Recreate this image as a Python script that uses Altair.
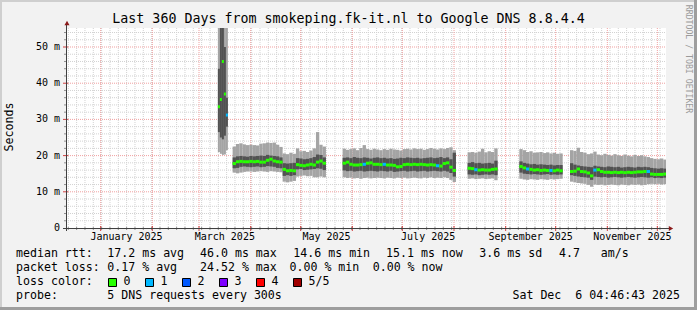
import altair as alt
import pandas as pd

# ---------------------------------------------------------------- data
# Each data segment: start time, bin width (days) and one value per bin for
# the five sorted pings (min, 2nd, median, 4th, max) plus the loss count.
seg_start = ["2025-03-12T08:00:00", "2025-03-21T04:00:00", "2025-05-26T04:00:00",
             "2025-08-09T04:00:00", "2025-09-09T05:00:00", "2025-10-09T14:00:00"]
seg_step_days = [1.2, 2, 2, 2, 2, 2]

# spike in March
max_s = [58.0, 58.0, 58.0, 58.0, 58.0]
hi_s = [44.0, 56.0, 56.0, 50.0, 36.0]
med_s = [33.5, 35.5, 46.0, 37.0, 31.2]
lo_s = [26.5, 25.0, 24.5, 25.5, 28.0]
min_s = [21.0, 20.5, 20.2, 20.3, 21.5]
loss_s = [0, 0, 0, 0, 1]

# March - May
max_a = [22.5, 23.2, 23.4, 23.1, 22.9, 23.0, 22.9, 22.8, 23.3, 23.4,
         23.6, 23.5, 23.6, 23.0, 22.4, 20.6, 20.4, 20.8, 20.5, 22.0,
         21.2, 21.3, 21.0, 21.4, 22.0, 26.5, 23.0, 22.5]
hi_a = [19.5, 19.8, 19.9, 19.8, 19.7, 19.9, 19.8, 19.9, 20.0, 19.9,
        20.2, 20.0, 19.9, 19.8, 19.5, 17.9, 17.8, 17.9, 18.0, 19.3,
        19.2, 19.0, 19.1, 19.3, 19.6, 20.3, 20.2, 19.5]
med_a = [17.8, 18.3, 18.4, 18.3, 18.3, 18.4, 18.3, 18.4, 18.2, 18.2,
         18.7, 19.0, 18.5, 18.3, 18.2, 16.2, 15.8, 15.9, 15.8, 17.5,
         17.3, 17.2, 17.4, 17.6, 17.4, 18.2, 18.5, 17.9]
lo_a = [16.5, 16.6, 16.9, 17.0, 16.9, 16.8, 16.9, 17.0, 16.8, 16.9,
        17.1, 17.0, 16.9, 16.6, 16.5, 14.4, 14.6, 14.4, 14.6, 16.2,
        16.3, 16.0, 16.1, 16.2, 16.3, 16.5, 16.4, 16.0]
min_a = [15.3, 15.1, 15.3, 15.5, 15.6, 15.6, 15.5, 15.6, 15.7, 15.6,
         15.5, 15.7, 15.6, 15.5, 15.4, 12.8, 12.6, 12.8, 13.0, 14.2,
         14.4, 14.5, 14.3, 14.4, 14.0, 14.0, 14.2, 14.0]
loss_a = [0] * 28

# late May - July
max_b = [21.9, 21.6, 21.8, 22.0, 21.5, 22.1, 22.9, 21.8, 21.6, 21.9,
         21.7, 21.5, 21.8, 21.6, 21.9, 21.7, 21.6, 21.4, 21.8, 21.9,
         21.7, 22.0, 21.8, 21.9, 21.6, 21.8, 22.1, 21.9, 21.7, 22.0,
         21.8, 22.1, 22.3, 21.5]
hi_b = [19.4, 19.5, 19.3, 19.6, 19.4, 19.3, 19.5, 19.4, 19.2, 19.4,
        19.5, 19.3, 19.4, 19.2, 19.3, 19.1, 19.2, 19.4, 19.3, 19.5,
        19.4, 19.3, 19.4, 19.2, 19.3, 19.4, 19.5, 19.3, 19.4, 19.6,
        19.3, 19.5, 19.0, 20.8]
med_b = [17.9, 18.2, 17.6, 17.4, 17.4, 17.5, 17.6, 17.9, 18.0, 17.6,
         17.6, 17.5, 17.6, 17.4, 17.4, 17.3, 16.9, 17.0, 17.5, 17.6,
         17.5, 17.6, 17.5, 17.6, 17.5, 17.4, 17.5, 17.4, 17.2, 17.1,
         17.8, 18.0, 16.8, 15.9]
lo_b = [15.9, 15.7, 15.8, 15.6, 15.7, 15.8, 15.6, 15.7, 15.8, 15.7,
        15.6, 15.8, 15.7, 15.6, 15.8, 15.5, 15.6, 15.7, 15.8, 15.6,
        15.7, 15.8, 15.6, 15.7, 15.8, 15.6, 15.7, 15.8, 15.7, 15.6,
        15.8, 15.6, 15.2, 14.2]
min_b = [14.0, 13.8, 13.9, 13.7, 13.8, 13.6, 13.8, 13.9, 13.7, 13.8,
         13.9, 13.8, 13.7, 13.9, 13.8, 13.7, 13.9, 13.8, 13.9, 13.7,
         13.8, 13.9, 13.8, 13.7, 13.9, 13.8, 14.0, 13.8, 13.9, 13.8,
         14.0, 13.8, 13.3, 12.7]
loss_b = [0, 0, 0, 0, 0, 0, 1, 0, 0, 0,
          0, 0, 1, 0, 0, 0, 0, 0, 0, 0,
          0, 0, 0, 0, 0, 0, 0, 0, 1, 0,
          0, 0, 0, 0]

# August
max_c = [20.9, 21.0, 20.8, 21.1, 21.9, 20.9, 21.2, 21.0, 22.0]
hi_c = [18.0, 18.2, 17.9, 18.0, 17.8, 17.9, 18.0, 17.8, 18.6]
med_c = [16.5, 16.4, 16.1, 16.0, 16.1, 16.0, 16.0, 16.2, 16.3]
lo_c = [14.8, 14.7, 14.8, 14.6, 14.7, 14.8, 14.7, 14.8, 14.6]
min_c = [13.6, 13.7, 13.5, 13.6, 13.7, 13.5, 13.6, 13.7, 13.2]
loss_c = [0, 0, 1, 0, 0, 0, 0, 0, 0]

# September
max_d = [21.8, 21.5, 21.0, 21.2, 20.8, 20.9, 21.0, 20.7, 20.9, 20.6, 20.8, 20.5, 20.6]
hi_d = [18.4, 18.0, 17.8, 17.6, 17.7, 17.5, 17.6, 17.5, 17.4, 17.5, 17.3, 17.4, 17.4]
med_d = [17.0, 16.6, 16.3, 16.2, 16.0, 16.1, 15.9, 16.0, 15.9, 15.9, 15.8, 16.0, 15.8]
lo_d = [15.3, 15.0, 14.9, 14.8, 14.9, 14.8, 14.7, 14.8, 14.9, 14.7, 14.8, 14.7, 14.8]
min_d = [13.6, 13.4, 13.3, 13.5, 13.4, 13.3, 13.5, 13.4, 13.3, 13.5, 13.4, 13.5, 13.6]
loss_d = [0, 0, 1, 0, 0, 0, 0, 0, 0, 1, 0, 0, 0]

# October - December
max_e = [21.5, 21.3, 22.2, 21.0, 20.8, 20.4, 20.6, 21.1, 20.3, 20.1,
         20.5, 20.2, 20.0, 20.4, 20.1, 19.9, 20.3, 20.0, 19.8, 20.2,
         19.9, 20.1, 19.8, 19.6, 19.3, 19.1, 19.0, 19.2, 18.9]
hi_e = [17.9, 17.5, 17.3, 17.1, 17.0, 16.9, 16.8, 17.2, 17.0, 16.9,
        16.8, 17.0, 16.9, 16.8, 16.9, 16.7, 16.8, 16.9, 16.8, 16.7,
        16.9, 16.8, 16.9, 16.8, 16.6, 16.5, 16.4, 16.5, 16.4]
med_e = [15.6, 15.7, 16.3, 15.6, 15.5, 15.2, 14.4, 16.0, 16.1, 15.6,
         15.4, 15.4, 15.3, 15.4, 15.3, 15.4, 15.3, 15.4, 15.3, 15.4,
         15.5, 15.5, 15.6, 15.6, 14.9, 14.8, 14.8, 14.8, 14.9]
lo_e = [14.6, 14.4, 14.2, 14.1, 14.0, 13.9, 13.3, 14.2, 14.1, 14.0,
        14.1, 13.9, 14.0, 14.1, 14.0, 13.9, 14.0, 14.1, 14.0, 13.9,
        14.0, 14.1, 14.0, 13.9, 14.0, 13.8, 13.9, 13.8, 13.9]
min_e = [12.8, 12.6, 12.4, 12.3, 12.2, 11.9, 11.4, 12.0, 11.9, 12.0,
         11.8, 11.9, 12.0, 11.9, 11.8, 12.0, 11.9, 11.8, 12.0, 11.9,
         12.0, 11.8, 11.9, 12.1, 12.2, 12.1, 12.2, 12.0, 12.1]
loss_e = [0, 0, 0, 0, 0, 0, 0, 1, 0, 0,
          0, 0, 0, 0, 0, 0, 0, 0, 0, 0,
          0, 0, 0, 1, 0, 0, 0, 0, 0]

seg_max = [max_s, max_a, max_b, max_c, max_d, max_e]
seg_hi = [hi_s, hi_a, hi_b, hi_c, hi_d, hi_e]
seg_med = [med_s, med_a, med_b, med_c, med_d, med_e]
seg_lo = [lo_s, lo_a, lo_b, lo_c, lo_d, lo_e]
seg_min = [min_s, min_a, min_b, min_c, min_d, min_e]
seg_loss = [loss_s, loss_a, loss_b, loss_c, loss_d, loss_e]

y_ticks = [0, 10, 20, 30, 40, 50]
month_labels = ["January 2025", "March 2025", "May 2025", "July 2025",
                "September 2025", "November 2025"]
loss_names = ["0", "1", "2", "3", "4", "5/5"]
loss_colors = ["#26ff00", "#00b8ff", "#0059ff", "#7e00ff", "#ff0000", "#a10000"]

title_text = "Last 360 Days from smokeping.fk-it.nl to Google DNS 8.8.4.4"
end_stamp = "2025-12-06 04:46:43"
span_days = 360

# ---------------------------------------------------------------- layout
FONT = "DejaVu Sans Mono"
W, H = 600, 200
L, T = 66, 28          # plot origin inside the 697 x 310 canvas
R, B = 697 - L - W, 310 - T - H
Y_MAX = 55.25

end_ts = pd.Timestamp(end_stamp)
start_ts = end_ts - pd.Timedelta(days=span_days)


def iso(ts):
    return ts.strftime("%Y-%m-%dT%H:%M:%SZ")


def dt(ts):
    return alt.DateTime(year=ts.year, month=ts.month, date=ts.day, hours=ts.hour,
                        minutes=ts.minute, seconds=ts.second, utc=True)


rows = []
for k in range(len(seg_start)):
    t = pd.Timestamp(seg_start[k])
    step = pd.Timedelta(days=seg_step_days[k])
    for i in range(len(seg_med[k])):
        rows.append({"t0": iso(t + step * i), "t1": iso(t + step * (i + 1)),
                     "mn": seg_min[k][i], "lo": seg_lo[k][i], "med": seg_med[k][i],
                     "hi": seg_hi[k][i], "mx": seg_max[k][i],
                     "loss": loss_names[seg_loss[k][i]]})
df = pd.DataFrame(rows)

xs = alt.Scale(type="utc", domain=[dt(start_ts), dt(end_ts)])
ys = alt.Scale(domain=[0, Y_MAX], nice=False, zero=False)

months = pd.date_range("2025-01-01", "2025-12-01", freq="MS")
month_df = pd.DataFrame({"t": [iso(m) for m in months]})
minor_days = pd.date_range("2024-12-12 14:00", end_ts, freq="5D")
minor_df = pd.DataFrame({"t": [iso(m) for m in minor_days]})
label_months = [pd.Timestamp(s.split()[0] + " 1 " + s.split()[1]) for s in month_labels]
mid_df = pd.DataFrame({
    "t": [iso(m + (m + pd.offsets.MonthBegin(1) - m) / 2) for m in label_months],
    "lab": [s.replace(" ", "\u00a0") for s in month_labels]})
hmaj_df = pd.DataFrame({"v": y_ticks[1:]})
hmin_df = pd.DataFrame({"v": [v for v in range(2, 56, 2) if v % 10]})
ylab_df = pd.DataFrame({"v": y_ticks,
                        "lab": ["0\u00a0\u00a0" if v == 0 else f"{v}\u00a0m" for v in y_ticks]})

GRID_MINOR = "#d2d2d2"
GRID_MAJOR = "#f0a0a0"
AXIS = "#404040"
ARROW = "#8b1a1a"

layers = []
# grid
layers.append(alt.Chart(minor_df).mark_rule(color=GRID_MINOR, strokeDash=[1, 1]).encode(
    x=alt.X("t:T", scale=xs, axis=None), y=alt.value(0), y2=alt.value(H)))
layers.append(alt.Chart(hmin_df).mark_rule(color=GRID_MINOR, strokeDash=[1, 1]).encode(
    y=alt.Y("v:Q", scale=ys, axis=None), x=alt.value(0), x2=alt.value(W)))
layers.append(alt.Chart(month_df).mark_rule(color=GRID_MAJOR, strokeDash=[1, 1]).encode(
    x=alt.X("t:T", scale=xs, axis=None), y=alt.value(0), y2=alt.value(H)))
layers.append(alt.Chart(hmaj_df).mark_rule(color=GRID_MAJOR, strokeDash=[1, 1]).encode(
    y=alt.Y("v:Q", scale=ys, axis=None), x=alt.value(0), x2=alt.value(W)))

# smoke
layers.append(alt.Chart(df).mark_rect(color="#a4a4a4", clip=True).encode(
    x=alt.X("t0:T", scale=xs, axis=None), x2="t1:T",
    y=alt.Y("mn:Q", scale=ys, axis=None), y2="mx:Q"))
layers.append(alt.Chart(df).mark_rect(color="#525252", clip=True).encode(
    x=alt.X("t0:T", scale=xs, axis=None), x2="t1:T",
    y=alt.Y("lo:Q", scale=ys, axis=None), y2="hi:Q"))
layers.append(alt.Chart(df).mark_rule(strokeWidth=3, strokeCap="butt", clip=True).encode(
    x=alt.X("t0:T", scale=xs, axis=None), x2="t1:T",
    y=alt.Y("med:Q", scale=ys, axis=None),
    color=alt.Color("loss:N", scale=alt.Scale(domain=loss_names, range=loss_colors), legend=None)))

# axis ticks
layers.append(alt.Chart(minor_df).mark_rule(color="#909090").encode(
    x=alt.X("t:T", scale=xs, axis=None), y=alt.value(H - 1), y2=alt.value(H + 2)))
layers.append(alt.Chart(month_df).mark_rule(color="#d04040").encode(
    x=alt.X("t:T", scale=xs, axis=None), y=alt.value(H - 2), y2=alt.value(H + 3)))
layers.append(alt.Chart(hmin_df).mark_rule(color="#909090").encode(
    y=alt.Y("v:Q", scale=ys, axis=None), x=alt.value(-2), x2=alt.value(1)))
layers.append(alt.Chart(hmaj_df).mark_rule(color="#d04040").encode(
    y=alt.Y("v:Q", scale=ys, axis=None), x=alt.value(-3), x2=alt.value(2)))

one = pd.DataFrame({"k": [0]})
# axis lines + arrows
layers.append(alt.Chart(one).mark_rule(color=AXIS).encode(
    x=alt.value(0.5), y=alt.value(-4), y2=alt.value(H + 3)))
layers.append(alt.Chart(one).mark_rule(color=AXIS).encode(
    x=alt.value(-3), x2=alt.value(W + 4), y=alt.value(H + 0.5)))
layers.append(alt.Chart(one).mark_point(shape="triangle-up", filled=True, size=26,
                                        color=ARROW, opacity=1).encode(
    x=alt.value(1), y=alt.value(-5)))
layers.append(alt.Chart(one).mark_point(shape="triangle-right", filled=True, size=26,
                                        color=ARROW, opacity=1).encode(
    x=alt.value(W + 5), y=alt.value(H + 0.5)))

# y labels and month labels
layers.append(alt.Chart(ylab_df).mark_text(font=FONT, fontSize=10, align="right",
                                           baseline="middle", color="#000000").encode(
    y=alt.Y("v:Q", scale=ys, axis=None), x=alt.value(-6), text="lab:N"))
layers.append(alt.Chart(mid_df).mark_text(font=FONT, fontSize=10, align="center",
                                          baseline="middle", color="#000000").encode(
    x=alt.X("t:T", scale=xs, axis=None), y=alt.value(209), text="lab:N"))


def label(txt, x, y, size=11.6, align="left", color="#000000", angle=0):
    return alt.Chart(one).mark_text(text=txt.replace(" ", "\u00a0"), font=FONT,
                                    fontSize=size, align=align, baseline="middle",
                                    color=color, angle=angle).encode(
        x=alt.value(x - L), y=alt.value(y - T))


layers.append(label(title_text, 348.5, 18.5, size=13.3, align="center"))
layers.append(label("Seconds", 10, 127, size=11.6, align="center", angle=270))
layers.append(label("RRDTOOL / TOBI OETIKER", 688, 59, size=8.2, align="center",
                    color="#9a9a9a", angle=90))

legend_rows = [
    (254, [("median rtt:", 16), ("17.2 ms avg", 107.3), ("46.0 ms max", 200),
           ("14.6 ms min", 293.3), ("15.1 ms now", 386), ("3.6 ms sd", 479.3),
           ("4.7", 559), ("am/s", 600.7)]),
    (268, [("packet loss:", 16), ("0.17 % avg", 107.3), ("24.52 % max", 200),
           ("0.00 % min", 289.5), ("0.00 % now", 372.7)]),
    (282, [("loss color:", 16)]),
    (296, [("probe:", 16), ("5 DNS requests every 300s", 107.3)]),
]
for y, items in legend_rows:
    for txt, x in items:
        layers.append(label(txt, x, y))
layers.append(label("Sat Dec  6 04:46:43 2025", 680, 296, align="right"))

for i, (name, col) in enumerate(zip(loss_names, loss_colors)):
    bx = 108.5 + 37 * i
    layers.append(alt.Chart(one).mark_rect(fill=col, stroke="#000000", strokeWidth=1).encode(
        x=alt.value(bx - L), x2=alt.value(bx + 8 - L),
        y=alt.value(278.5 - T), y2=alt.value(286.5 - T)))
    layers.append(label(name, bx + 15, 282))

# outer frame
def band(x0, x1, y0, y1, col):
    return alt.Chart(one).mark_rect(color=col).encode(
        x=alt.value(x0 - L), x2=alt.value(x1 - L), y=alt.value(y0 - T), y2=alt.value(y1 - T))

layers.append(band(0, 697, 0, 2, "#cfcfcf"))
layers.append(band(0, 2, 0, 310, "#cfcfcf"))
layers.append(band(694, 697, 0, 310, "#9e9e9e"))
layers.append(band(0, 697, 307, 310, "#9e9e9e"))

chart = alt.layer(*layers).properties(
    width=W, height=H,
    padding={"left": L, "top": T, "right": R, "bottom": B},
    autosize=alt.AutoSizeParams(type="none"),
    background="#f2f2f2",
).configure_view(fill="#ffffff", stroke=None)

chart.save("out.html", embed_options={"renderer": "svg", "actions": False})
